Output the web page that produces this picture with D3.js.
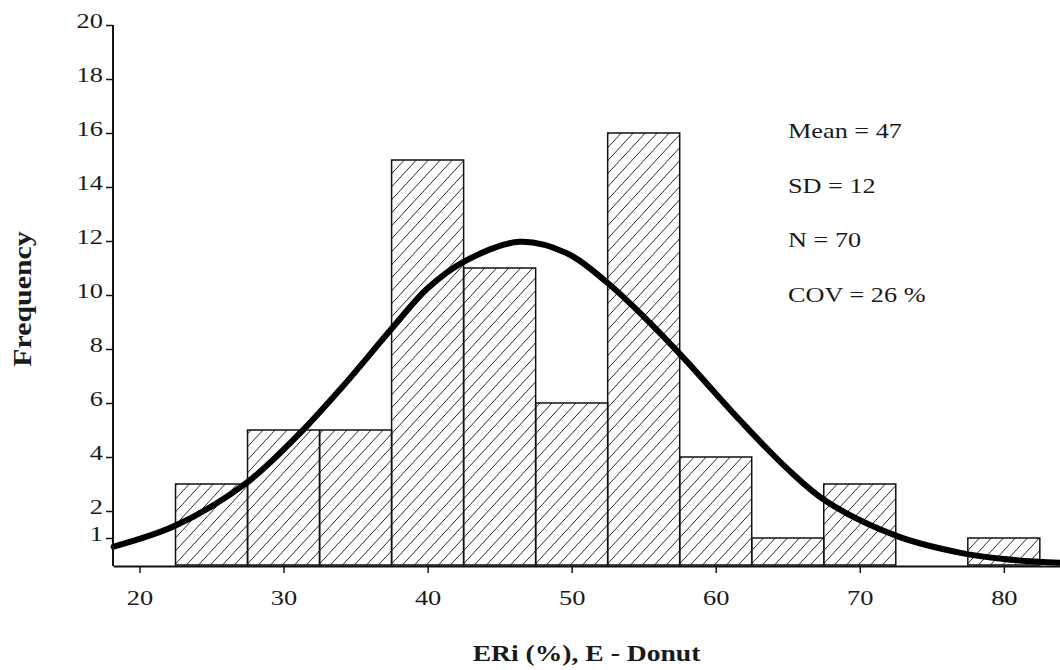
<!DOCTYPE html>
<html>
<head>
<meta charset="utf-8">
<script src="https://cdn.jsdelivr.net/npm/d3@7"></script>
<style>
  html, body { margin: 0; padding: 0; background: #fff; }
  svg { display: block; }
  text { font-family: "Liberation Serif", "Times New Roman", serif; fill: #1a1a1a; }
</style>
</head>
<body>
<svg id="chart" width="1060" height="670"></svg>
<script>
// ---- data ----
const binCenters = [25, 30, 35, 40, 45, 50, 55, 60, 65, 70, 75, 80];
const frequency  = [3, 5, 5, 15, 11, 6, 16, 4, 1, 3, 0, 1];
const binWidth = 5;

// fitted normal curve
const curveX = [18.2, 22.5, 27.4, 30.9, 34.2, 37.5, 40.0, 42.5, 46.4, 49.7, 52.4, 55.0, 57.7, 61.7, 65.0, 67.7, 72.7, 77.0, 80.0, 83.9];
const curveY = [0.68, 1.46, 3.03, 4.75, 6.67, 8.75, 10.25, 11.23, 11.97, 11.54, 10.49, 9.2, 7.71, 5.35, 3.55, 2.35, 1.05, 0.45, 0.22, 0.08];

const xTicks = [20, 30, 40, 50, 60, 70, 80];
const yTicks = [1, 2, 4, 6, 8, 10, 12, 14, 16, 18, 20];

const statLabels = ["Mean = 47", "SD = 12", "N = 70", "COV = 26 %"];
const xTitle = "ERi (%), E - Donut";
const yTitle = "Frequency";

// ---- layout ----
const svg = d3.select("#chart");
const plotLeft = 113, plotRight = 1060, plotTop = 25, plotBottom = 565;
const sx = 1.2; // horizontal text stretch seen in the reference

const x = d3.scaleLinear().domain([18.16, 83.9]).range([plotLeft, plotRight]);
const y = d3.scaleLinear().domain([0, 20]).range([plotBottom, plotTop]);

// hatch pattern
const defs = svg.append("defs");
const pw = 12, ph = 13;
defs.append("pattern")
  .attr("id", "hatch")
  .attr("patternUnits", "userSpaceOnUse")
  .attr("width", pw).attr("height", ph)
  .append("path")
  .attr("d", `M0,${ph} L${pw},0 M${-pw*0.2},${ph*0.2} L${pw*0.2},${-ph*0.2} M${pw*0.8},${ph*1.2} L${pw*1.2},${ph*0.8}`)
  .attr("stroke", "#2a2a2a")
  .attr("stroke-width", 1);

// bars
const bars = binCenters.map((c, i) => ({ c, f: frequency[i] })).filter(d => d.f > 0);
svg.append("g").selectAll("rect")
  .data(bars)
  .join("rect")
  .attr("x", d => x(d.c - binWidth / 2))
  .attr("y", d => y(d.f))
  .attr("width", d => x(d.c + binWidth / 2) - x(d.c - binWidth / 2))
  .attr("height", d => y(0) - y(d.f))
  .attr("fill", "url(#hatch)")
  .attr("stroke", "#111")
  .attr("stroke-width", 1.5);

// curve
const pts = curveX.map((v, i) => [v, curveY[i]]);
svg.append("path")
  .datum(pts)
  .attr("fill", "none")
  .attr("stroke", "#000")
  .attr("stroke-width", 6)
  .attr("stroke-linecap", "round")
  .attr("d", d3.line().x(d => x(d[0])).y(d => y(d[1])).curve(d3.curveCatmullRom.alpha(0.5)));

// axes
const yAxis = svg.append("g")
  .attr("transform", `translate(${plotLeft},0)`)
  .call(d3.axisLeft(y).tickValues(yTicks).tickSize(7).tickPadding(9).tickSizeOuter(0));
const xAxis = svg.append("g")
  .attr("transform", `translate(0,${plotBottom + 1})`)
  .call(d3.axisBottom(x).tickValues(xTicks).tickSize(7).tickPadding(16).tickSizeOuter(0));

[yAxis, xAxis].forEach(g => {
  g.select(".domain").attr("stroke", "#111").attr("stroke-width", 2);
  g.selectAll(".tick line").attr("stroke", "#111").attr("stroke-width", 1.5);
  g.selectAll(".tick text")
    .attr("font-family", "Liberation Serif, Times New Roman, serif")
    .attr("font-size", 22)
    .attr("fill", "#1a1a1a");
});
yAxis.select(".domain").attr("d", `M0,${y(20)}V${plotBottom + 1}`);
yAxis.selectAll(".tick text").attr("dy", "0.12em")
  .attr("transform", `scale(${sx},1)`).attr("x", -10 / sx);
xAxis.selectAll(".tick text").attr("transform", `scale(${sx},1)`);

// stats annotation
const statX = 788, statY0 = 138, statStep = 54.5;
svg.append("g").selectAll("text")
  .data(statLabels)
  .join("text")
  .attr("transform", (d, i) => `translate(${statX},${statY0 + i * statStep}) scale(1.25,1)`)
  .attr("font-size", 21)
  .text(d => d);

// axis titles
svg.append("text")
  .attr("transform", `translate(${(plotLeft + plotRight) / 2},661) scale(1.15,1)`)
  .attr("text-anchor", "middle")
  .attr("font-weight", "bold")
  .attr("font-size", 24)
  .text(xTitle);

svg.append("text")
  .attr("transform", `translate(31,299) rotate(-90) scale(1.15,1)`)
  .attr("text-anchor", "middle")
  .attr("font-weight", "bold")
  .attr("font-size", 26)
  .text(yTitle);
</script>
</body>
</html>
